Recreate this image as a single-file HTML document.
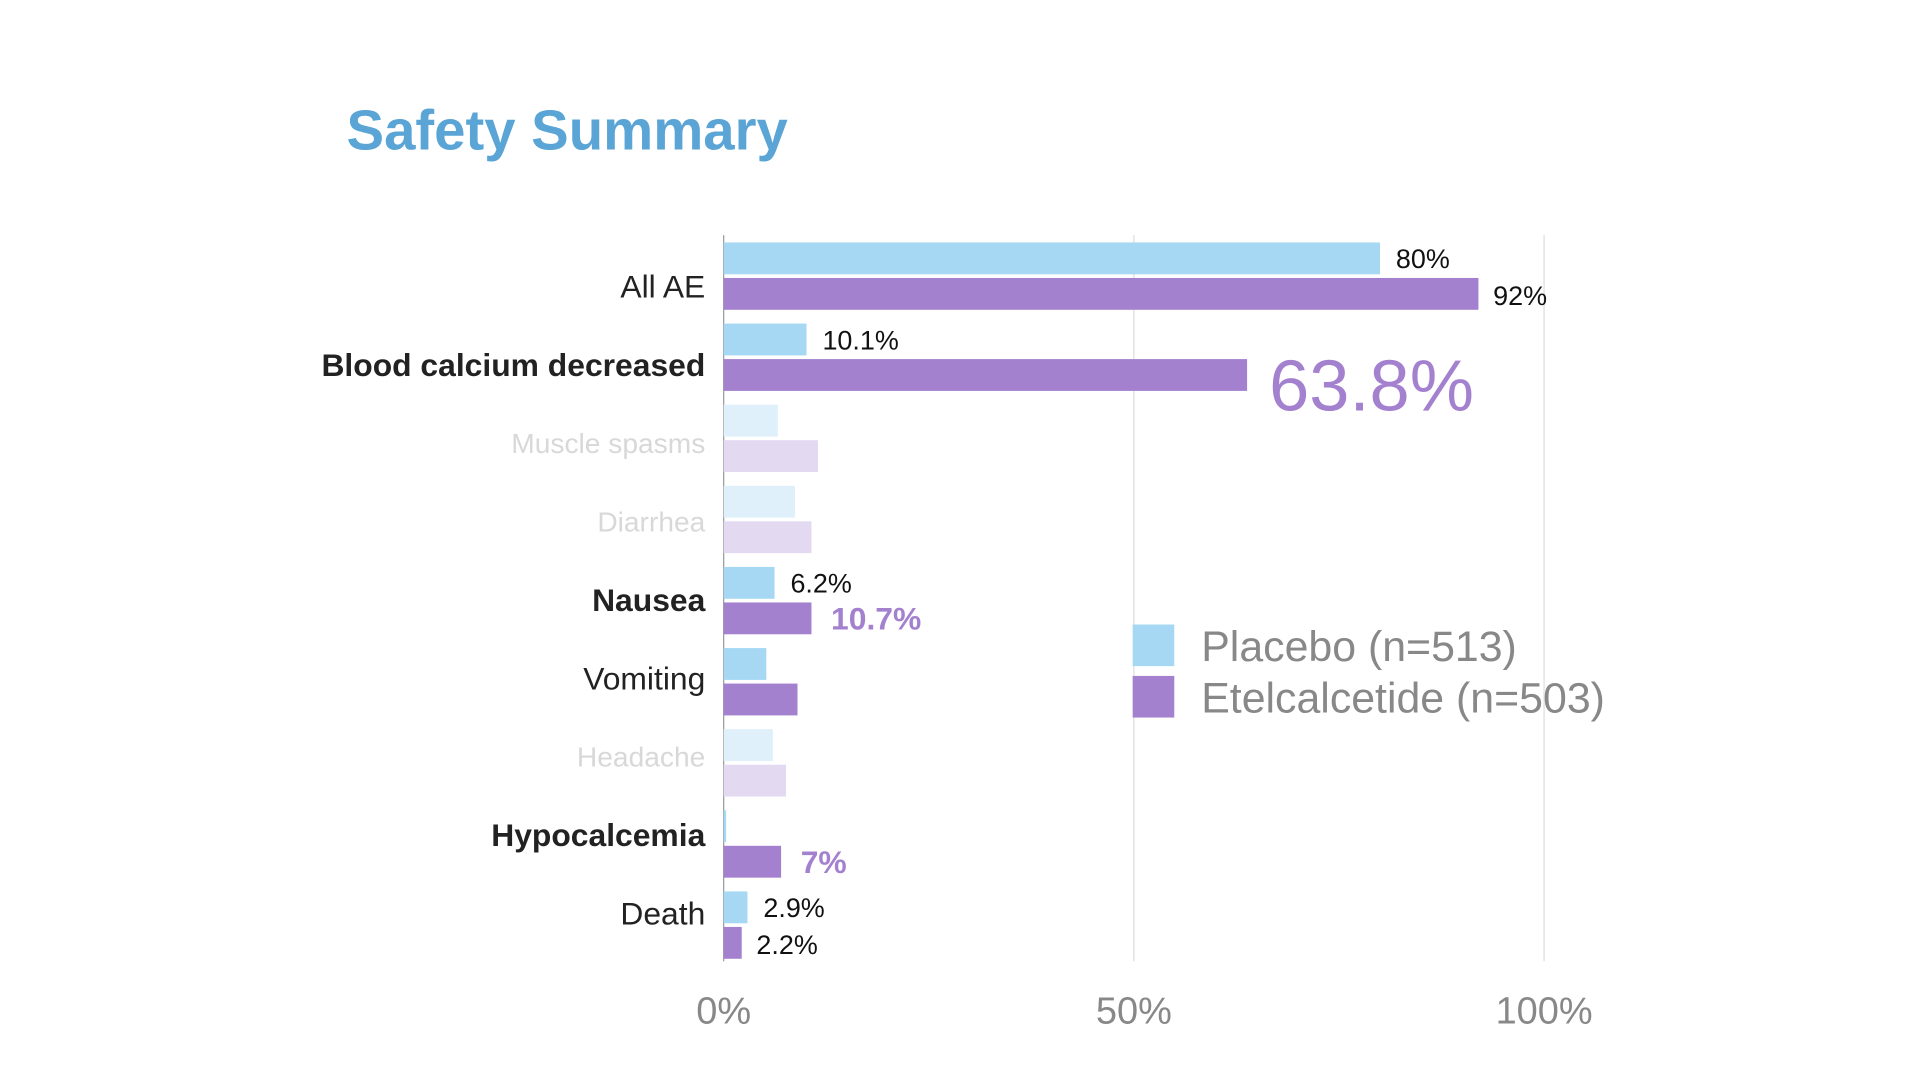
<!DOCTYPE html>
<html><head><meta charset="utf-8"><style>
html,body{margin:0;padding:0;background:#fff;width:1920px;height:1080px;overflow:hidden}
svg{display:block}
text{font-family:"Liberation Sans",sans-serif}
</style></head><body>
<svg id="chart" width="1920" height="1080" viewBox="0 0 1568 882" xmlns="http://www.w3.org/2000/svg">
<text x="283" y="122" font-size="46" font-weight="bold" fill="#5aa5d6">Safety Summary</text>
<g id="grid"></g><g id="bars"></g><g id="labels"></g>
<g>
<rect x="925" y="510" width="34" height="34" fill="#a6d8f3"/>
<text x="981" y="540" font-size="35" fill="#888">Placebo (n=513)</text>
<rect x="925" y="552" width="34" height="34" fill="#a481cf"/>
<text x="981" y="582" font-size="35" fill="#888">Etelcalcetide (n=503)</text>
</g>
</svg>
<script>
const categories=["All AE","Blood calcium decreased","Muscle spasms","Diarrhea","Nausea","Vomiting","Headache","Hypocalcemia","Death"];
const placebo=[80,10.1,6.6,8.7,6.2,5.2,6.0,0.3,2.9];
const etel=[92,63.8,11.5,10.7,10.7,9.0,7.6,7,2.2];
const placeboLabels=["80%","10.1%","","","6.2%","","","","2.9%"];
const etelLabels=["92%","63.8%","","","10.7%","","","7%","2.2%"];
const faded=[false,false,true,true,false,false,true,false,false];
const bold=[false,true,false,false,true,false,false,true,false];
const ticks=[0,50,100];
const NS="http://www.w3.org/2000/svg";
const x0=591,pxPer=6.7,top0=198,step=66.25,bh=26,gap=3,labelTop=234,labelStep=64;
const xs=v=>x0+v*pxPer;
function mk(tag,attrs,parent){const e=document.createElementNS(NS,tag);for(const k in attrs)e.setAttribute(k,attrs[k]);parent.appendChild(e);return e;}
const grid=document.getElementById('grid'),bars=document.getElementById('bars'),labels=document.getElementById('labels');
ticks.forEach(t=>{
 const l=mk('line',{x1:xs(t),x2:xs(t),y1:192,y2:785,stroke:t===0?'#999':'#ddd','stroke-width':1},grid);
 
 
 const tx=mk('text',{x:xs(t),y:836,'font-size':31,fill:'#888','text-anchor':'middle'},grid);
 tx.textContent=t+'%';
 
 
});
categories.forEach((c,i)=>{
 const y=top0+i*step;
 const f=faded[i];
 const b1=mk('rect',{x:x0,y:y,width:Math.max(placebo[i]*pxPer,1),height:bh,fill:f?'#dff0fa':'#a6d8f3'},bars);
 
 
 const b2=mk('rect',{x:x0,y:y+bh+gap,width:etel[i]*pxPer,height:bh,fill:f?'#e3d9f1':'#a481cf'},bars);
 
 
 const fs=f?23:26;
 const cl=mk('text',{x:576,y:labelTop+i*labelStep+(f?8:9),'font-size':fs,'text-anchor':'end',fill:f?'#d8d8d8':'#222','font-weight':bold[i]?'bold':'normal'},labels);
 cl.textContent=c;
 
 
 if(placeboLabels[i]){
  const t=mk('text',{x:xs(placebo[i])+13,y:y+bh/2+8,'font-size':22,fill:'#111'},labels);
  t.textContent=placeboLabels[i];
  
  
 }
 if(etelLabels[i]){
  const big=i===1, hi=(i===4||i===7);
  const t=mk('text',{x:xs(etel[i])+(big?18:(hi?16:12)),y:big?y+bh+gap+42:y+bh+gap+bh/2+9,'font-size':big?59:(hi?26:22),fill:(big||hi)?'#a481cf':'#111','font-weight':hi?'bold':'normal'},labels);
  t.textContent=etelLabels[i];
  
  
 }
});
</script>
</body></html>
